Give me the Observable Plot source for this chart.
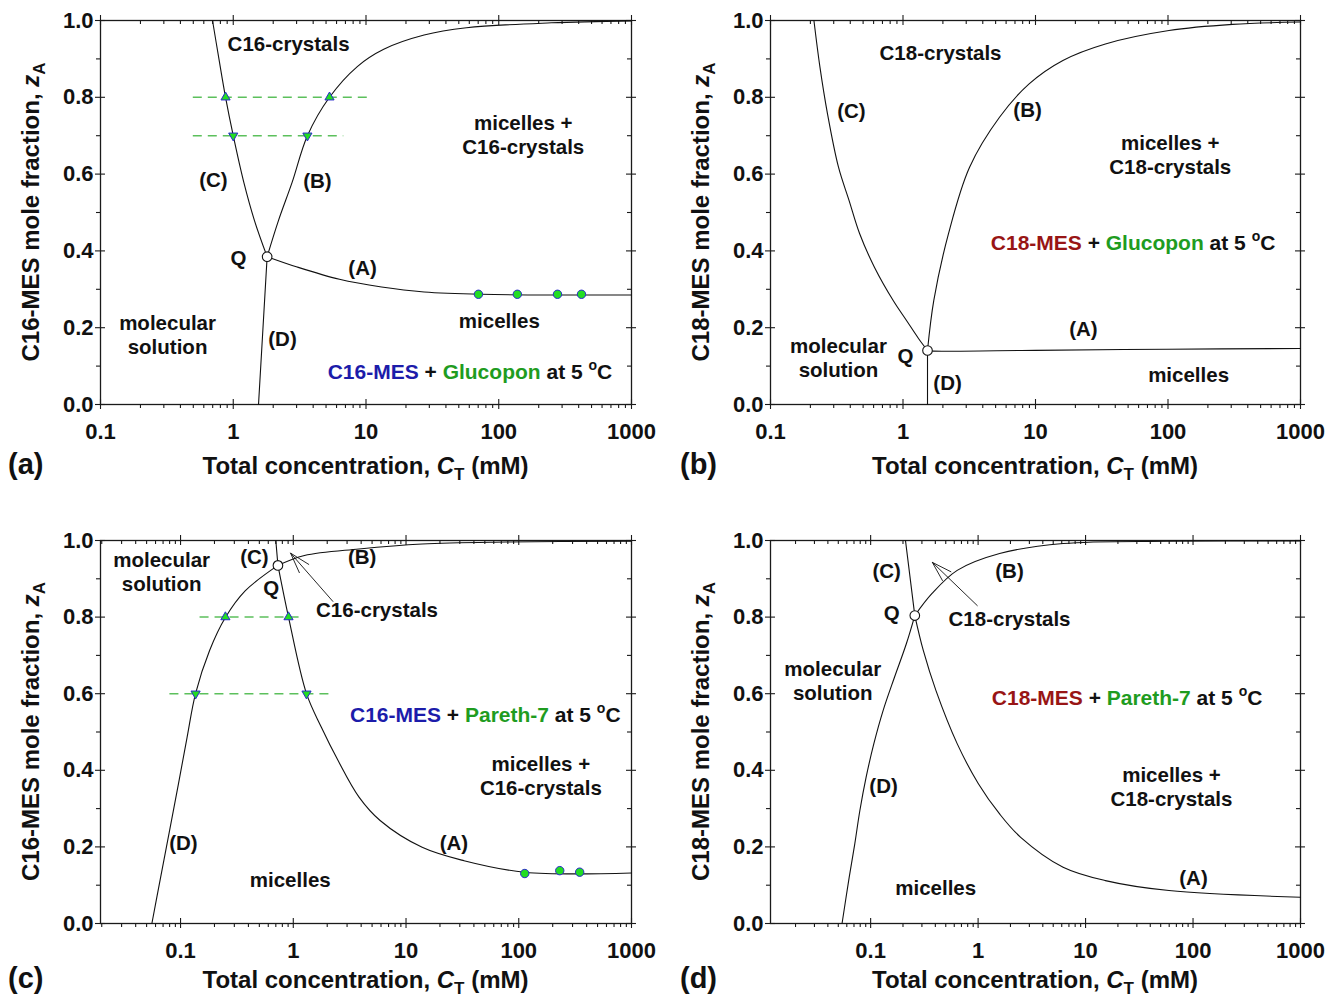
<!DOCTYPE html>
<html><head><meta charset="utf-8">
<script src="https://cdn.jsdelivr.net/npm/d3@7"></script>
<script src="https://cdn.jsdelivr.net/npm/@observablehq/plot@0.6"></script>
<style>
body{margin:0;background:#fff;}
#wrap{position:relative;width:1325px;height:997px;overflow:hidden;background:#fff;}
#wrap svg{position:absolute;}
</style></head><body><div id="wrap"></div>
<script>
// ---------- axis ticks ----------
const xTicks = [0.1, 1, 10, 100, 1000];
const xTickText = ["0.1", "1", "10", "100", "1000"];
const yTicks = [0, 0.2, 0.4, 0.6, 0.8, 1.0];
const yTickText = ["0.0", "0.2", "0.4", "0.6", "0.8", "1.0"];
const yMinorTicks = [0.1, 0.3, 0.5, 0.7, 0.9];
const decades = [0.01, 0.1, 1, 10, 100];
const minorSteps = [2, 3, 4, 5, 6, 7, 8, 9];

// ---------- panel (a): C16-MES + Glucopon ----------
const aCurveC = [[0.698,1.0],[0.78,0.9],[0.875,0.8],[1.0,0.7],[1.2,0.579],[1.445,0.479],[1.8,0.385]];
const aCurveB = [[1.8,0.385],[2.19,0.479],[2.78,0.579],[3.62,0.7],[5.31,0.8],[8.6,0.88],[13.6,0.925],[27.4,0.962],[57.1,0.981],[249,0.994],[1000,0.999]];
const aCurveA = [[1.8,0.385],[3.03,0.358],[6.31,0.326],[13.1,0.306],[27.4,0.293],[74,0.287],[1000,0.285]];
const aCurveD = [[1.8,0.385],[1.55,0.0]];
const aQ = [[1.8,0.385]];
const aDots = [[70.3,0.287],[138,0.287],[277,0.287],[420,0.287]];
const aTriUp = [[0.875,0.8],[5.31,0.8]];
const aTriDown = [[1.0,0.7],[3.62,0.7]];
const aDashes = [[0.8,0.5,10.3],[0.7,0.5,6.8]];
const aLabels = [
  [2.61,0.9375,"C16-crystals"],[153,0.732,"micelles +"],[153,0.669,"C16-crystals"],
  [0.709,0.583,"(C)"],[4.31,0.581,"(B)"],[1.095,0.380,"Q"],[9.42,0.354,"(A)"],
  [101,0.216,"micelles"],[0.32,0.211,"molecular"],[0.32,0.148,"solution"],[2.35,0.169,"(D)"]
];

// ---------- panel (b): C18-MES + Glucopon ----------
const bCurveC = [[0.2127,1.0],[0.2363,0.878],[0.2693,0.757],[0.326,0.618],[0.392,0.531],[0.471,0.4445],[0.610,0.357],[0.848,0.2695],[1.063,0.2188],[1.309,0.172],[1.531,0.1406]];
const bCurveB = [[1.531,0.1406],[1.708,0.271],[2.205,0.445],[3.18,0.618],[5.35,0.748],[8.95,0.835],[16.1,0.896],[33.7,0.939],[101.7,0.974],[307,0.990],[1000,0.996]];
const bCurveA = [[1.531,0.1406],[1.7,0.139],[10,0.141],[100,0.144],[1000,0.146]];
const bCurveD = [[1.531,0.1406],[1.531,0.0]];
const bQ = [[1.531,0.1406]];
const bLabels = [
  [1.92,0.914,"C18-crystals"],[0.408,0.763,"(C)"],[8.71,0.766,"(B)"],
  [104,0.680,"micelles +"],[104,0.617,"C18-crystals"],[23,0.195,"(A)"],
  [0.326,0.151,"molecular"],[0.326,0.0885,"solution"],[1.045,0.125,"Q"],
  [2.17,0.055,"(D)"],[143,0.0755,"micelles"]
];

// ---------- panel (c): C16-MES + Pareth-7 ----------
const cCurveD = [[0.0557,0],[0.0665,0.120],[0.080,0.243],[0.096,0.366],[0.1143,0.486],[0.136,0.601],[0.181,0.713],[0.250,0.799],[0.376,0.869],[0.731,0.935]];
const cCurveB = [[0.731,0.935],[1.256,0.961],[3.83,0.978],[13.9,0.991],[76.7,0.996],[1000,0.998]];
const cCurveC = [[0.70,1.0],[0.731,0.935]];
const cCurveA = [[0.731,0.935],[0.907,0.8],[1.31,0.6],[1.77,0.513],[2.49,0.426],[3.83,0.330],[5.89,0.269],[13.9,0.199],[32.7,0.164],[112,0.134],[1000,0.132]];
const cQ = [[0.731,0.935]];
const cDots = [[113,0.1305],[231,0.138],[347,0.134]];
const cTriUp = [[0.250,0.8],[0.907,0.8]];
const cTriDown = [[0.136,0.6],[1.31,0.6]];
const cDashes = [[0.8,0.149,1.23],[0.6,0.0805,2.29]];
const cArrow = [[2.245,0.841,0.946,0.967]];
const cLabels = [
  [0.068,0.948,"molecular"],[0.068,0.885,"solution"],[0.452,0.956,"(C)"],
  [4.08,0.956,"(B)"],[0.638,0.875,"Q"],[5.53,0.817,"C16-crystals"],
  [157,0.415,"micelles +"],[157,0.352,"C16-crystals"],[0.106,0.209,"(D)"],
  [26.6,0.209,"(A)"],[0.94,0.112,"micelles"]
];

// ---------- panel (d): C18-MES + Pareth-7 ----------
const dCurveD = [[0.0542,0],[0.0632,0.121],[0.0712,0.208],[0.0794,0.295],[0.0908,0.382],[0.107,0.469],[0.1306,0.556],[0.1667,0.643],[0.2153,0.731],[0.2576,0.804]];
const dCurveB = [[0.2576,0.804],[0.371,0.861],[0.639,0.922],[1.585,0.966],[6.18,0.992],[59.8,0.998],[1000,0.999]];
const dCurveC = [[0.211,1.0],[0.2576,0.804]];
const dCurveA = [[0.2576,0.804],[0.309,0.713],[0.4055,0.608],[0.64,0.469],[1.006,0.365],[1.585,0.286],[2.49,0.225],[6.18,0.147],[15.3,0.112],[59.8,0.086],[1000,0.0687]];
const dQ = [[0.2576,0.804]];
const dArrow = [[0.983,0.830,0.375,0.943]];
const dLabels = [
  [0.141,0.919,"(C)"],[1.96,0.919,"(B)"],[0.157,0.809,"Q"],[1.96,0.794,"C18-crystals"],
  [0.0444,0.663,"molecular"],[0.0444,0.600,"solution"],[0.132,0.358,"(D)"],
  [63,0.386,"micelles +"],[63,0.324,"C18-crystals"],[101,0.1175,"(A)"],[0.403,0.091,"micelles"]
];

// ---------- colours / titles ----------
const BLUE = "#1c1caa", RED = "#981515", GREEN = "#1f9c1f", INK = "#111";
const aTitle = [["C16-MES", BLUE], [" + ", INK], ["Glucopon", GREEN], [" at 5 ", INK]];
const bTitle = [["C18-MES", RED], [" + ", INK], ["Glucopon", GREEN], [" at 5 ", INK]];
const cTitle = [["C16-MES", BLUE], [" + ", INK], ["Pareth-7", GREEN], [" at 5 ", INK]];
const dTitle = [["C18-MES", RED], [" + ", INK], ["Pareth-7", GREEN], [" at 5 ", INK]];

const FONT = '"Liberation Sans", Arial, Helvetica, sans-serif';
const wrap = document.getElementById("wrap");

function makePanel(p) {
  const innerW = p.width - p.ml - p.mr, innerH = p.height - p.mt - p.mb;
  const xMinor = decades.flatMap(d => minorSteps.map(s => +(d * s).toPrecision(6)))
    .filter(v => v > p.xDomain[0] && v < p.xDomain[1]);
  const xLab = new Map(xTicks.map((t, i) => [t, xTickText[i]]));
  const yLab = new Map(yTicks.map((t, i) => [t, yTickText[i]]));
  const tk = {stroke: "#1a1a1a", strokeWidth: 1.1};
  const curveOpts = {x: d => d[0], y: d => d[1], stroke: INK, strokeWidth: 1.1, curve: "catmull-rom"};
  const marks = [
    Plot.frame({stroke: "#1a1a1a", strokeWidth: 1.3}),
    // x ticks
    Plot.tickX(xTicks, {x: d => d, insetTop: innerH - 5, insetBottom: -5, ...tk}),
    Plot.tickX(xMinor, {x: d => d, insetTop: innerH, insetBottom: -4, ...tk}),
    Plot.tickX(xTicks, {x: d => d, insetTop: -5, insetBottom: innerH - 5, ...tk}),
    Plot.tickX(xMinor, {x: d => d, insetTop: 0, insetBottom: innerH - 4, ...tk}),
    // y ticks
    Plot.tickY(yTicks, {y: d => d, insetLeft: -5, insetRight: innerW - 5, ...tk}),
    Plot.tickY(yMinorTicks, {y: d => d, insetLeft: -4, insetRight: innerW, ...tk}),
    Plot.tickY(yTicks, {y: d => d, insetLeft: innerW - 5, insetRight: -5, ...tk}),
    Plot.tickY(yMinorTicks, {y: d => d, insetLeft: innerW - 4, insetRight: 0, ...tk}),
    Plot.axisX(xTicks, {anchor: "bottom", tickSize: 0, tickPadding: 19, tickFormat: d => xLab.get(d),
      fontSize: 22, fontWeight: "bold", fill: INK, label: null}),
    Plot.axisY(yTicks, {anchor: "left", tickSize: 0, tickPadding: 7, tickFormat: d => yLab.get(d),
      fontSize: 22, fontWeight: "bold", fill: INK, label: null}),
    // dashed tie lines
    Plot.ruleY(p.dashes || [], {y: d => d[0], x1: d => d[1], x2: d => d[2], stroke: "#5cc05c", strokeWidth: 1.5, strokeDasharray: "9,6"}),
    // curves
    ...p.curves.map(c => Plot.line(c, c.length > 2 ? curveOpts : {...curveOpts, curve: "linear"})),
    // arrow
    Plot.arrow(p.arrow || [], {x1: d => d[0], y1: d => d[1], x2: d => d[2], y2: d => d[3], headAngle: 34, headLength: 40, stroke: INK, strokeWidth: 0.9}),
    // data points
    Plot.dot(p.dots || [], {x: d => d[0], y: d => d[1], r: 4.2, fill: "#22dd22", stroke: "#2a2acc", strokeWidth: 1}),
    Plot.dot(p.triUp || [], {x: d => d[0], y: d => d[1], symbol: "triangle", r: 3.4, fill: "#22dd22", stroke: "#2a2acc", strokeWidth: 1}),
    Plot.dot(p.triDown || [], {x: d => d[0], y: d => d[1], symbol: "triangle", rotate: 180, r: 3.4, fill: "#22dd22", stroke: "#2a2acc", strokeWidth: 1}),
    Plot.dot(p.q, {x: d => d[0], y: d => d[1], r: 4.8, fill: "white", stroke: INK, strokeWidth: 1.1}),
    // region labels
    Plot.text(p.labels, {x: d => d[0], y: d => d[1], text: d => d[2], fontSize: 20.5, fontWeight: "bold", fill: INK})
  ];
  const plot = Plot.plot({
    width: p.width, height: p.height,
    marginLeft: p.ml, marginRight: p.mr, marginTop: p.mt, marginBottom: p.mb,
    x: {type: "log", domain: p.xDomain},
    y: {domain: [0, 1]},
    style: {fontFamily: FONT, overflow: "visible", background: "none"},
    marks
  });
  plot.style.left = p.left + "px";
  plot.style.top = p.top + "px";
  const svg = d3.select(plot);
  const sx = plot.scale("x"), sy = plot.scale("y");

  // mixed-colour system title
  const t = svg.append("text")
    .attr("x", sx.apply(p.titlePos[0])).attr("y", sy.apply(p.titlePos[1]) + 7)
    .attr("text-anchor", "middle").attr("font-family", FONT).attr("font-size", 21).attr("font-weight", "bold");
  p.title.forEach(([s, c]) => t.append("tspan").attr("fill", c).text(s));
  t.append("tspan").attr("fill", INK).attr("dy", -9).attr("font-size", 14).text("o");
  t.append("tspan").attr("fill", INK).attr("dy", 9).text("C");

  // x-axis title
  const fx = p.ml + innerW / 2;
  const xt = svg.append("text").attr("x", fx).attr("y", p.height - p.mb + p.titleDy)
    .attr("text-anchor", "middle").attr("font-family", FONT).attr("font-size", 24).attr("font-weight", "bold").attr("fill", INK);
  xt.append("tspan").text("Total concentration, ");
  xt.append("tspan").attr("font-style", "italic").text("C");
  xt.append("tspan").attr("dy", 6).attr("font-size", 17).text("T");
  xt.append("tspan").attr("dy", -6).text(" (mM)");

  // y-axis title
  const fy = p.mt + innerH / 2;
  const yt = svg.append("text").attr("transform", `translate(${p.ml - 61},${fy}) rotate(-90)`)
    .attr("text-anchor", "middle").attr("font-family", FONT).attr("font-size", 24).attr("font-weight", "bold").attr("fill", INK);
  yt.append("tspan").text(p.yTitle + " mole fraction, ");
  yt.append("tspan").attr("font-style", "italic").text("z");
  yt.append("tspan").attr("dy", 6).attr("font-size", 17).text("A");

  // panel letter
  svg.append("text").attr("x", p.letterX).attr("y", p.height - p.mb + p.titleDy)
    .attr("text-anchor", "start").attr("font-family", FONT).attr("font-size", 29).attr("font-weight", "bold")
    .attr("fill", INK).text(p.letter);

  wrap.appendChild(plot);
}

makePanel({left: 0, top: 0, width: 662, height: 499, ml: 100, mr: 31, mt: 20, mb: 95, titleDy: 70,
  xDomain: [0.1, 1000], curves: [aCurveC, aCurveB, aCurveA, aCurveD], q: aQ, dots: aDots,
  triUp: aTriUp, triDown: aTriDown, dashes: aDashes, labels: aLabels,
  title: aTitle, titlePos: [61.2, 0.083], yTitle: "C16-MES", letter: "(a)", letterX: 8});
makePanel({left: 662, top: 0, width: 663, height: 499, ml: 108, mr: 25, mt: 20, mb: 95, titleDy: 70,
  xDomain: [0.1, 1000], curves: [bCurveC, bCurveB, bCurveA, bCurveD], q: bQ, labels: bLabels,
  title: bTitle, titlePos: [55, 0.419], yTitle: "C18-MES", letter: "(b)", letterX: 18});
makePanel({left: 0, top: 499, width: 662, height: 498, ml: 100, mr: 31, mt: 41, mb: 74, titleDy: 65,
  xDomain: [0.0195, 1000], curves: [cCurveD, cCurveB, cCurveC, cCurveA], q: cQ, dots: cDots,
  triUp: cTriUp, triDown: cTriDown, dashes: cDashes, arrow: cArrow, labels: cLabels,
  title: cTitle, titlePos: [51, 0.543], yTitle: "C16-MES", letter: "(c)", letterX: 8});
makePanel({left: 662, top: 499, width: 663, height: 498, ml: 108, mr: 25, mt: 41, mb: 74, titleDy: 65,
  xDomain: [0.0117, 1000], curves: [dCurveD, dCurveB, dCurveC, dCurveA], q: dQ, arrow: dArrow, labels: dLabels,
  title: dTitle, titlePos: [24.6, 0.587], yTitle: "C18-MES", letter: "(d)", letterX: 18});
</script>
</body></html>
